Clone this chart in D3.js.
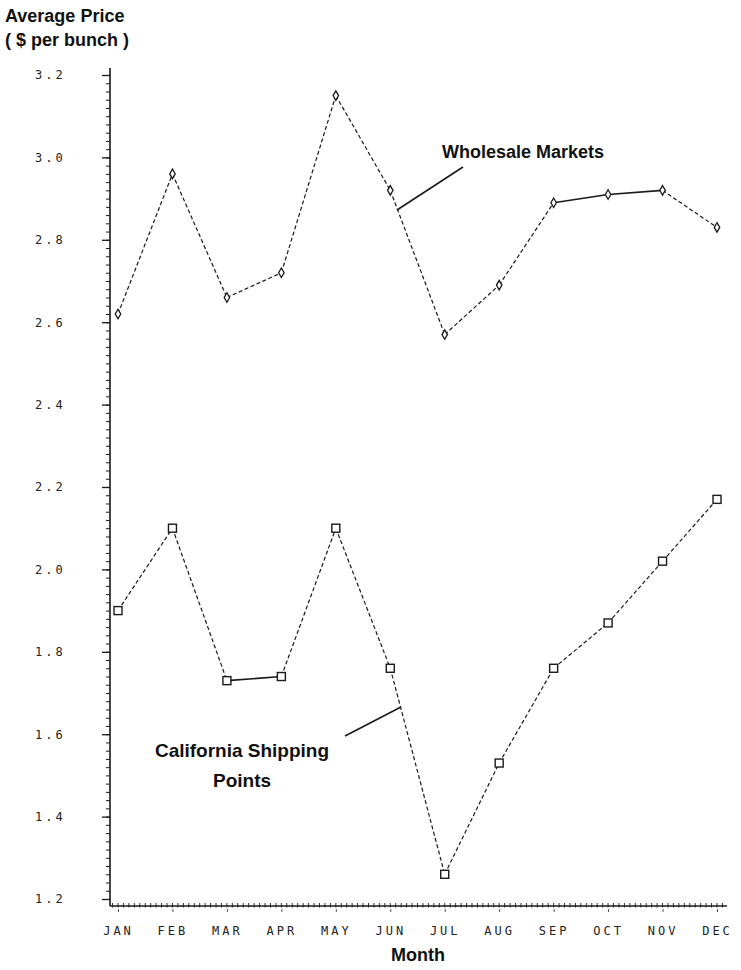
<!DOCTYPE html>
<html>
<head>
<meta charset="utf-8">
<script src="https://cdn.jsdelivr.net/npm/d3@7"></script>
<style>
  html, body { margin: 0; padding: 0; background: #fff; }
  svg { display: block; }
</style>
</head>
<body>
<svg id="chart" width="741" height="970"></svg>
<script>
const months = ["JAN","FEB","MAR","APR","MAY","JUN","JUL","AUG","SEP","OCT","NOV","DEC"];
const wholesale = [2.62, 2.96, 2.66, 2.72, 3.15, 2.92, 2.57, 2.69, 2.89, 2.91, 2.92, 2.83];
const california = [1.90, 2.10, 1.73, 1.74, 2.10, 1.76, 1.26, 1.53, 1.76, 1.87, 2.02, 2.17];
const yTickValues = [1.2, 1.4, 1.6, 1.8, 2.0, 2.2, 2.4, 2.6, 2.8, 3.0, 3.2];
const yTickLabels = ["1.2", "1.4", "1.6", "1.8", "2.0", "2.2", "2.4", "2.6", "2.8", "3.0", "3.2"];

const svg = d3.select("#chart");
const ink = "#1a1a1a";
const axisX0 = 110, axisX1 = 727, axisY0 = 68, axisY1 = 906;

const x = d3.scalePoint().domain(months).range([118, 717]);
const y = d3.scaleLinear().domain([1.2, 3.2]).range([899, 75]);

// Minor y ticks
const minorVals = d3.range(0, 101).map(i => 1.2 + i * 0.02).filter(v => v <= 3.2001);
const yMinor = svg.append("g").attr("transform", `translate(${axisX0},0)`)
  .call(d3.axisLeft(y).tickValues(minorVals).tickSize(4).tickFormat(""));
yMinor.select(".domain").remove();
yMinor.selectAll("line").attr("stroke", ink).attr("stroke-width", 1);

// Major y ticks
const yMajor = svg.append("g").attr("transform", `translate(${axisX0},0)`)
  .call(d3.axisLeft(y).tickValues(yTickValues).tickSize(8)
    .tickFormat((d, i) => yTickLabels[i]));
yMajor.select(".domain").remove();
yMajor.selectAll("line").attr("stroke", ink).attr("stroke-width", 1.3);
yMajor.selectAll("text")
  .attr("x", -75).attr("text-anchor", "start")
  .attr("font-family", "'DejaVu Sans Mono', monospace")
  .attr("font-size", 12).attr("letter-spacing", 3)
  .attr("fill", "#222");

// axis lines
svg.append("line").attr("x1", axisX0).attr("x2", axisX0).attr("y1", axisY0).attr("y2", axisY1)
  .attr("stroke", ink).attr("stroke-width", 1.6);
svg.append("line").attr("x1", axisX0).attr("x2", axisX1).attr("y1", axisY1).attr("y2", axisY1)
  .attr("stroke", ink).attr("stroke-width", 1.6);

// x minor ticks (hatching)
const step = x.step();
const xMinor = d3.range(-1, 121).map(i => x("JAN") + i * step / 10).filter(v => v > axisX0 + 1 && v < axisX1);
svg.append("g").selectAll("line").data(xMinor).join("line")
  .attr("x1", d => d).attr("x2", d => d)
  .attr("y1", axisY1 - 3).attr("y2", axisY1 + 1.5)
  .attr("stroke", ink).attr("stroke-width", 0.9);

// x axis with month labels
const xAxis = svg.append("g").attr("transform", `translate(0,${axisY1})`)
  .call(d3.axisBottom(x).tickSize(5).tickPadding(15));
xAxis.select(".domain").remove();
xAxis.selectAll("line").attr("stroke", "#555").attr("stroke-width", 1).attr("y1", 3).attr("y2", 6);
xAxis.selectAll("text")
  .attr("font-family", "'DejaVu Sans Mono', monospace")
  .attr("font-size", 12).attr("letter-spacing", 3)
  .attr("fill", "#222");

// lines
function drawSeries(values, solidSegs, markerFn) {
  const pts = values.map((v, i) => [x(months[i]), y(v)]);
  const g = svg.append("g");
  for (let i = 0; i < pts.length - 1; i++) {
    const solid = solidSegs.includes(i);
    g.append("path")
      .attr("d", d3.line()([pts[i], pts[i + 1]]))
      .attr("fill", "none").attr("stroke", ink)
      .attr("stroke-width", solid ? 1.6 : 1.2)
      .attr("stroke-dasharray", solid ? null : "4,2.5");
  }
  markerFn(g, pts);
}

drawSeries(wholesale, [8, 9], (g, pts) => {
  g.selectAll("path.m").data(pts).join("path").attr("class", "m")
    .attr("d", d3.symbol().type(d3.symbolDiamond).size(26))
    .attr("transform", d => `translate(${d[0]},${d[1]})`)
    .attr("fill", "#fff").attr("stroke", ink).attr("stroke-width", 1.3);
});

drawSeries(california, [2], (g, pts) => {
  g.selectAll("rect.m").data(pts).join("rect").attr("class", "m")
    .attr("x", d => d[0] - 4).attr("y", d => d[1] - 4)
    .attr("width", 8).attr("height", 8)
    .attr("fill", "#fff").attr("stroke", ink).attr("stroke-width", 1.4);
});

// annotations
const font = "'Liberation Sans', Arial, sans-serif";
svg.append("text").attr("x", 5).attr("y", 22).text("Average Price")
  .attr("font-family", font).attr("font-size", 18).attr("font-weight", "bold").attr("fill", "#111");
svg.append("text").attr("x", 5).attr("y", 46).text("( $ per bunch )")
  .attr("font-family", font).attr("font-size", 18).attr("font-weight", "bold").attr("fill", "#111");
svg.append("text").attr("x", 418).attr("y", 961).attr("text-anchor", "middle").text("Month")
  .attr("font-family", font).attr("font-size", 18).attr("font-weight", "bold").attr("fill", "#111");

svg.append("text").attr("x", 442).attr("y", 158).text("Wholesale Markets")
  .attr("font-family", font).attr("font-size", 18).attr("font-weight", "bold").attr("fill", "#111");
svg.append("line").attr("x1", 397).attr("y1", 210).attr("x2", 463).attr("y2", 167)
  .attr("stroke", ink).attr("stroke-width", 1.6);

svg.append("text").attr("x", 242).attr("y", 757).attr("text-anchor", "middle").text("California Shipping")
  .attr("font-family", font).attr("font-size", 19).attr("font-weight", "bold").attr("fill", "#111");
svg.append("text").attr("x", 242).attr("y", 787).attr("text-anchor", "middle").text("Points")
  .attr("font-family", font).attr("font-size", 19).attr("font-weight", "bold").attr("fill", "#111");
svg.append("line").attr("x1", 345).attr("y1", 736).attr("x2", 401).attr("y2", 707)
  .attr("stroke", ink).attr("stroke-width", 1.6);
</script>
</body>
</html>
